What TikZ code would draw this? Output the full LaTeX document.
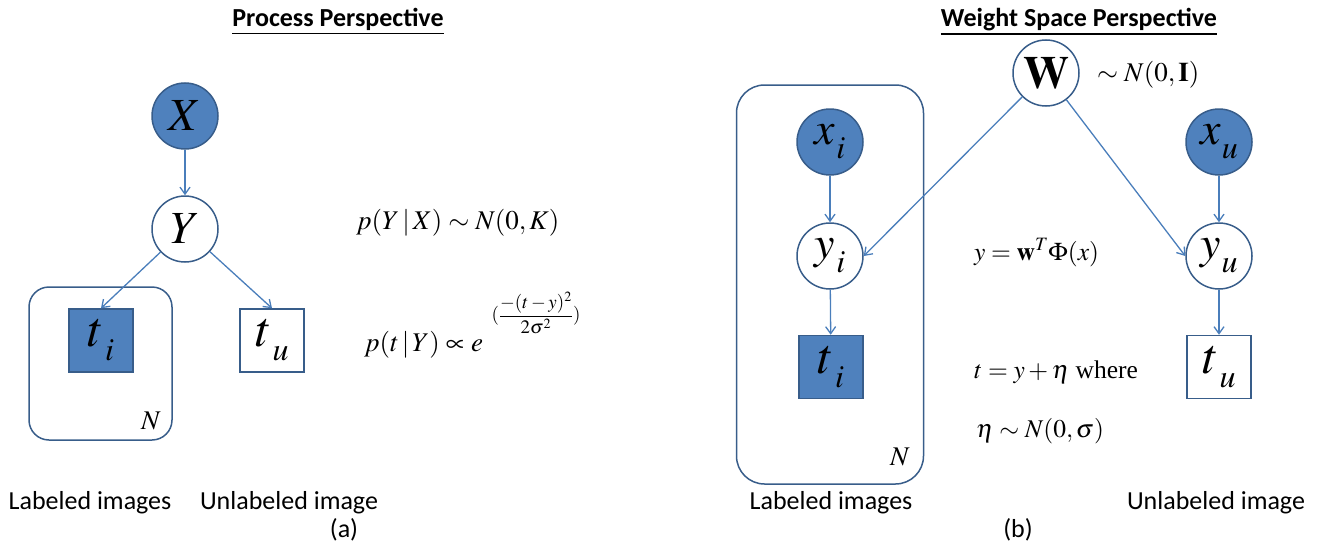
\documentclass[tikz,border=0pt]{standalone}
\usepackage{mathptmx}
\usepackage[no-math]{fontspec}
\setmainfont{Liberation Serif}
\newfontfamily\calib{Carlito}
\usetikzlibrary{arrows.meta}
\definecolor{fillblue}{HTML}{4F81BD}
\definecolor{edgeblue}{HTML}{385D8A}
\definecolor{arrowblue}{HTML}{4A7EBB}
\newcommand\bigsub[2]{$#1$\kern1pt\lower14pt\hbox{\fontsize{32}{34}\selectfont$#2$}}
\newcommand\thickul[1]{\vtop{\hbox{#1}\kern2.5pt\hrule height 1.6pt}}
\tikzset{
  obs/.style={circle, draw=edgeblue, fill=fillblue, line width=1.5pt, minimum size=66pt, inner sep=0pt, font=\fontsize{46}{50}\selectfont},
  lat/.style={circle, draw=edgeblue, fill=white, line width=1.5pt, minimum size=66pt, inner sep=0pt, font=\fontsize{46}{50}\selectfont},
  obsq/.style={rectangle, draw=edgeblue, fill=fillblue, line width=1.5pt, minimum width=64pt, minimum height=63pt, inner sep=0pt, font=\fontsize{50}{54}\selectfont},
  latq/.style={rectangle, draw=edgeblue, fill=white, line width=1.5pt, minimum width=64pt, minimum height=63pt, inner sep=0pt, font=\fontsize{50}{54}\selectfont},
  plate/.style={rectangle, draw=edgeblue, line width=1.5pt, inner sep=0pt},
  conn/.style={draw=arrowblue, line width=1.3pt, -{Straight Barb[length=7pt,width=10pt,line width=1.3pt]}},
  formula/.style={anchor=base west, inner sep=0pt, font=\fontsize{27}{30}\selectfont},
  formulab/.style={anchor=base west, inner sep=0pt, font=\fontsize{25.5}{28}\selectfont},
  caption/.style={inner sep=0pt, font=\calib\fontsize{26}{30}\selectfont},
  title/.style={inner sep=0pt, anchor=base, font=\calib\bfseries\fontsize{26}{30}\selectfont},
}
\begin{document}
\begin{tikzpicture}[x=1pt,y=-1pt]
\useasboundingbox (0,0) rectangle (1318,546);
% ---------- Panel (a)
\node[title] (ta) at (338,26) {\thickul{Process Perspective}};
\node[plate, minimum width=143pt, minimum height=153pt, rounded corners=20pt] (pa) at (100.5,363.5) {};
\node[obs] (X) at (185,116) {$X$};
\node[lat] (Y) at (185,229) {$Y$};
\node[obsq] (ti) at (101,340.5) {\bigsub{t}{i}};
\node[latq] (tu) at (272,340.5) {\bigsub{t}{u}};
\node[inner sep=0pt, font=\fontsize{27}{30}\selectfont] (Na) at (151,421) {$N$};
\draw[conn] (X) -- (Y);
\draw[conn] (Y) -- (ti.north);
\draw[conn] (Y) -- (tu.north);
\node[formula] (f1) at (356,229) {$p(Y\,|\,X)\sim N(0,K)$};
\node[formula] (f2) at (364,351) {$p(t\,|\,Y)\propto e$};
\node[inner sep=0pt, font=\fontsize{19}{22}\selectfont] (f2e) at (536,313) {$(\displaystyle\frac{-(t-y)^2}{2\sigma^2})$};
\node[caption] (la) at (90,503) {Labeled images};
\node[caption] (ua) at (289,503) {Unlabeled image};
\node[caption] (ca) at (344,530) {(a)};
% ---------- Panel (b)
\node[title] (tb) at (1079,26) {\thickul{Weight Space Perspective}};
\node[plate, minimum width=187pt, minimum height=399pt, rounded corners=28pt] (pb) at (830,284.5) {};
\node[lat] (W) at (1046,73) {$\mathbf{W}$};
\node[formula] (fw) at (1097,81) {$\sim N(0,\mathbf{I})$};
\node[obs] (xi) at (830,142) {\bigsub{x}{i}};
\node[lat] (yi) at (830,256) {\bigsub{y}{i}};
\node[obsq] (tib) at (831,367) {\bigsub{t}{i}};
\node[obs] (xu) at (1219,142) {\bigsub{x}{u}};
\node[lat] (yu) at (1219,256) {\bigsub{y}{u}};
\node[latq] (tub) at (1219,367) {\bigsub{t}{u}};
\node[inner sep=0pt, font=\fontsize{27}{30}\selectfont] (Nb) at (900,457) {$N$};
\draw[conn] (xi) -- (yi);
\draw[conn] (yi) -- (tib);
\draw[conn] (xu) -- (yu);
\draw[conn] (yu) -- (tub);
\draw[conn] (W) -- (yi.east);
\draw[conn] (W) -- (yu.west);
\node[formulab] (fy) at (974,260) {$y=\mathbf{w}^{T}\Phi(x)$};
\node[formulab] (ft) at (974,378) {$t=y+\eta$ where};
\node[formulab] (fe) at (976,437) {$\eta\sim N(0,\sigma)$};
\node[caption] (lb) at (831,503) {Labeled images};
\node[caption] (ub) at (1216,503) {Unlabeled image};
\node[caption] (cb) at (1018,530) {(b)};
\end{tikzpicture}
\end{document}
